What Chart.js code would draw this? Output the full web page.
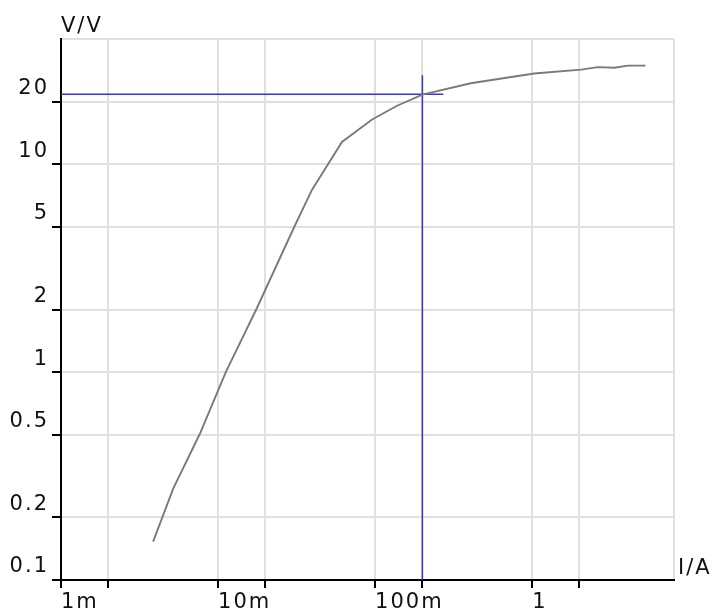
<!DOCTYPE html>
<html>
<head>
<meta charset="utf-8">
<script src="https://cdn.jsdelivr.net/npm/chart.js@4"></script>
<style>
  html, body { margin: 0; padding: 0; background: #fff; }
</style>
</head>
<body>
<canvas id="myChart" width="718" height="610"></canvas>
<script>
// measured curve: current (A) vs voltage (V)
const currentA = [0.00386, 0.00518, 0.00766, 0.0112, 0.0175, 0.0306, 0.0396, 0.0615, 0.0957, 0.138, 0.200, 0.406, 1.03, 2.05, 2.62, 3.34, 4.07, 5.27];
const voltageV = [0.153, 0.275, 0.505, 1.0, 2.0, 5.0, 7.52, 12.8, 16.4, 19.1, 21.6, 24.5, 27.3, 28.5, 29.3, 29.1, 29.8, 29.8];

// crosshair marker
const markerHX = [0.001, 0.272];
const markerHY = [21.7, 21.7];
const markerVX = [0.2, 0.2];
const markerVY = [0.1, 26.8];

const xTicks = [0.001, 0.002, 0.01, 0.02, 0.1, 0.2, 1, 2, 8];
const xTickLabels = ['1m', '', '10m', '', '100m', '', '1', '', ''];
const yTicks = [0.1, 0.2, 0.5, 1, 2, 5, 10, 20, 40];
const yTickLabels = ['0.1', '0.2', '0.5', '1', '2', '5', '10', '20', ''];

const toPoints = (xs, ys) => xs.map((x, i) => ({ x: x, y: ys[i] }));

const FONT = { family: 'DejaVu Sans', size: 21 };
const TEXT = '#111';

const spacing = {
  id: 'spacing',
  beforeDraw(chart) {
    chart.ctx.letterSpacing = '2px';
  },
  afterDraw(chart) {
    const ctx = chart.ctx;
    const a = chart.chartArea;
    ctx.save();
    ctx.letterSpacing = '2px';
    ctx.fillStyle = TEXT;
    ctx.font = '21px "DejaVu Sans"';
    ctx.textAlign = 'left';
    ctx.textBaseline = 'alphabetic';
    ctx.fillText('V/V', a.left, a.top - 7);
    ctx.fillText('I/A', a.right + 4, a.bottom - 6);
    ctx.restore();
  }
};

const config = {
  type: 'line',
  data: {
    datasets: [
      {
        data: toPoints(currentA, voltageV),
        borderColor: '#7a7a7a',
        borderWidth: 1.9,
        pointRadius: 0,
        tension: 0
      },
      {
        data: toPoints(markerHX, markerHY),
        borderColor: '#3b3ba0',
        borderWidth: 1.5,
        pointRadius: 0
      },
      {
        data: toPoints(markerVX, markerVY),
        borderColor: '#3b3ba0',
        borderWidth: 1.5,
        pointRadius: 0
      }
    ]
  },
  options: {
    responsive: false,
    animation: false,
    layout: { padding: { left: 0, top: 39, right: 44, bottom: 0 } },
    plugins: {
      legend: { display: false },
      tooltip: { enabled: false }
    },
    scales: {
      x: {
        type: 'logarithmic',
        min: 0.001,
        max: 8,
        afterBuildTicks: s => { s.ticks = xTicks.map(v => ({ value: v })); },
        afterFit: s => { s.height = 30; },
        border: { color: '#000', width: 2 },
        grid: {
          color: '#e0e0e0',
          lineWidth: 2,
          tickLength: 8,
          tickWidth: 2,
          tickColor: c => (c.index === xTicks.length - 1 ? 'rgba(0,0,0,0)' : '#000')
        },
        ticks: {
          autoSkip: false,
          maxRotation: 0,
          align: 'start',
          padding: 2,
          color: TEXT,
          font: FONT,
          callback: (v, i) => xTickLabels[i]
        }
      },
      y: {
        type: 'logarithmic',
        min: 0.1,
        max: 40,
        afterBuildTicks: s => { s.ticks = yTicks.map(v => ({ value: v })); },
        afterFit: s => { s.width = 61; },
        border: { color: '#000', width: 2 },
        grid: {
          color: '#e0e0e0',
          lineWidth: 2,
          tickLength: 9,
          tickWidth: 2,
          tickColor: c => (c.index === yTicks.length - 1 ? 'rgba(0,0,0,0)' : '#000')
        },
        ticks: {
          autoSkip: false,
          padding: 3,
          labelOffset: -13,
          color: TEXT,
          font: FONT,
          callback: (v, i) => yTickLabels[i]
        }
      }
    }
  },
  plugins: [spacing]
};

const myChart = new Chart(document.getElementById('myChart'), config);
</script>
</body>
</html>
